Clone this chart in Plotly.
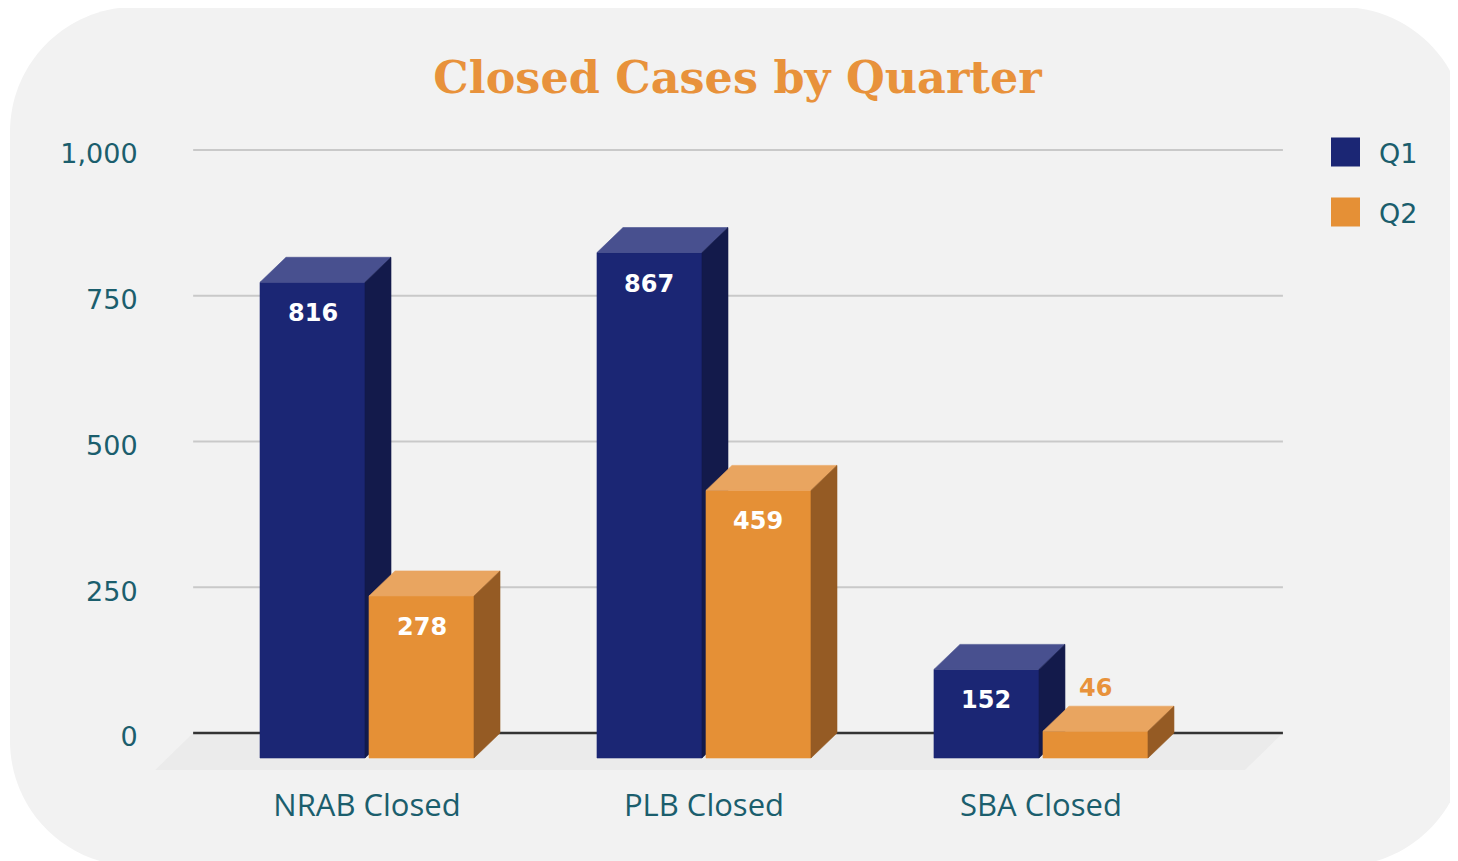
import plotly.graph_objects as go

# ---------------- data ----------------
CATEGORIES = ["NRAB Closed", "PLB Closed", "SBA Closed"]
SERIES = ["Q1", "Q2"]
Q1_VALUES = [816, 867, 152]
Q2_VALUES = [278, 459, 46]
Y_TICKS = [0, 250, 500, 750, 1000]
Y_TICK_LABELS = ["0", "250", "500", "750", "1,000"]
TITLE = "Closed Cases by Quarter"

# ---------------- style ----------------
FRONT = {"Q1": "#1b2674", "Q2": "#e59036"}
TOP = {"Q1": "#48508f", "Q2": "#e9a560"}
SIDE = {"Q1": "#131a4b", "Q2": "#955b24"}
TEAL = "#1b5e6d"
ORANGE = "#e8923b"
PANEL = "#f2f2f2"
FLOOR = "#ebebeb"

OFF = 8                      # page body margin of the html page
W, H = 1458 - OFF, 861 - OFF
L, R, T, B = 150 - OFF, 1290 - OFF, 120 - OFF, 773 - OFF   # plot area in px
ZERO_PX = 733 - OFF          # pixel row of value 0 on the back wall
PX_PER_UNIT_Y = 0.583
X_RANGE = [-0.644, 2.739]
Y_RANGE = [(ZERO_PX - B) / PX_PER_UNIT_Y, (ZERO_PX - T) / PX_PER_UNIT_Y]
PX_X = (R - L) / (X_RANGE[1] - X_RANGE[0])
PX_Y = (B - T) / (Y_RANGE[1] - Y_RANGE[0])

def dx(px):
    return px / PX_X

def dy(px):
    return px / PX_Y

DEPTH_X, DEPTH_Y = dx(26), dy(25)
BAR_W = dx(105)
BAR_SEP = dx(109)
WALL = [-0.516, 2.718]
FLOOR_DX, FLOOR_DY = dx(38), dy(37)

fig = go.Figure()

series_values = {"Q1": Q1_VALUES, "Q2": Q2_VALUES}
annotations = []
for si, s in enumerate(SERIES):
    fx, fy, tx, ty, sx, sy = [], [], [], [], [], []
    for ci, v in enumerate(series_values[s]):
        xc = ci + (si - 0.5) * BAR_SEP
        xl, xr = xc - BAR_W / 2, xc + BAR_W / 2
        yb, yt = -DEPTH_Y, v - DEPTH_Y
        fx += [xl, xr, xr, xl, xl, None]
        fy += [yb, yb, yt, yt, yb, None]
        tx += [xl, xr, xr + DEPTH_X, xl + DEPTH_X, xl, None]
        ty += [yt, yt, v, v, yt, None]
        sx += [xr, xr + DEPTH_X, xr + DEPTH_X, xr, xr, None]
        sy += [yb, 0, v, yt, yb, None]
        front_h_px = v * PX_Y
        if front_h_px > 60:
            annotations.append(dict(x=xc, y=yt, xref="x", yref="y", text=str(v),
                                    showarrow=False, yshift=-31, yanchor="middle",
                                    font=dict(family="DejaVu Sans", size=24, color="white", weight=700)))
        else:
            annotations.append(dict(x=xc, y=v, xref="x", yref="y", text=str(v),
                                    showarrow=False, yshift=18, yanchor="middle",
                                    font=dict(family="DejaVu Sans", size=24, color=ORANGE, weight=700)))
    for xs, ys, col in [(fx, fy, FRONT[s]), (tx, ty, TOP[s]), (sx, sy, SIDE[s])]:
        fig.add_trace(go.Scatter(x=xs, y=ys, mode="lines", fill="toself", fillcolor=col,
                                 line=dict(color=col, width=0.6), name=s, showlegend=False,
                                 hoverinfo="skip"))

# ---------------- background shapes ----------------
def pxx(px):
    return (px - OFF - L) / (R - L)

def pxy(py):
    return (B - (py - OFF)) / (B - T)

def rounded_rect(x0, y0, x1, y1, r):
    k = 0.5523 * r
    path = f"M {pxx(x0 + r)},{pxy(y0)} L {pxx(x1 - r)},{pxy(y0)} "
    path += f"C {pxx(x1 - r + k)},{pxy(y0)} {pxx(x1)},{pxy(y0 + r - k)} {pxx(x1)},{pxy(y0 + r)} "
    path += f"L {pxx(x1)},{pxy(y1 - r)} "
    path += f"C {pxx(x1)},{pxy(y1 - r + k)} {pxx(x1 - r + k)},{pxy(y1)} {pxx(x1 - r)},{pxy(y1)} "
    path += f"L {pxx(x0 + r)},{pxy(y1)} "
    path += f"C {pxx(x0 + r - k)},{pxy(y1)} {pxx(x0)},{pxy(y1 - r + k)} {pxx(x0)},{pxy(y1 - r)} "
    path += f"L {pxx(x0)},{pxy(y0 + r)} "
    path += f"C {pxx(x0)},{pxy(y0 + r - k)} {pxx(x0 + r - k)},{pxy(y0)} {pxx(x0 + r)},{pxy(y0)} Z"
    return path

shapes = [dict(type="path", xref="paper", yref="paper", path=rounded_rect(10, 7, 1466, 866, 125),
               fillcolor=PANEL, line=dict(width=0), layer="below")]

floor_path = (f"M {WALL[0]},0 L {WALL[1]},0 L {WALL[1] - FLOOR_DX},{-FLOOR_DY} "
              f"L {WALL[0] - FLOOR_DX},{-FLOOR_DY} Z")
shapes.append(dict(type="path", xref="x", yref="y", path=floor_path, fillcolor=FLOOR,
                   line=dict(width=0), layer="below"))
for t in Y_TICKS:
    shapes.append(dict(type="line", xref="x", yref="y", x0=WALL[0], x1=WALL[1], y0=t, y1=t,
                       line=dict(color="#333333" if t == 0 else "#c9c9c9", width=2.5 if t == 0 else 2),
                       layer="below"))

# ---------------- manual legend ----------------
for i, s in enumerate(SERIES):
    yc = 152 + 60 * i
    shapes.append(dict(type="rect", xref="paper", yref="paper",
                       x0=pxx(1331), x1=pxx(1360), y0=pxy(yc + 14.5), y1=pxy(yc - 14.5),
                       fillcolor=FRONT[s], line=dict(width=0), layer="above"))
    annotations.append(dict(x=pxx(1377), y=pxy(yc + 1), xref="paper", yref="paper", text=s,
                            showarrow=False, xanchor="left", yanchor="middle",
                            font=dict(family="DejaVu Sans", size=27, color=TEAL)))

fig.update_layout(
    width=W, height=H, autosize=False,
    margin=dict(l=L, r=W - R, t=T, b=H - B, pad=0),
    paper_bgcolor="white", plot_bgcolor="rgba(0,0,0,0)",
    showlegend=False,
    title=dict(text=TITLE, x=(737.5 - OFF) / W, y=1 - (77 - OFF) / H, xref="container", yref="container",
               xanchor="center", yanchor="middle",
               font=dict(family="DejaVu Serif", size=44.5, color=ORANGE, weight=700)),
    xaxis=dict(range=X_RANGE, tickvals=[0, 1, 2], ticktext=CATEGORIES, showgrid=False,
               zeroline=False, showline=False, ticks="outside", ticklen=5,
               tickcolor="rgba(0,0,0,0)", tickfont=dict(family="Open Sans", size=31, color=TEAL),
               fixedrange=True),
    yaxis=dict(range=Y_RANGE, tickvals=Y_TICKS, ticktext=Y_TICK_LABELS, showgrid=False,
               zeroline=False, showline=False, ticks="outside", ticklen=6,
               ticklabelshift=4,
               tickcolor="rgba(0,0,0,0)", tickfont=dict(family="DejaVu Sans", size=27, color=TEAL),
               fixedrange=True),
    shapes=shapes,
    annotations=annotations,
)

fig.write_html("out.html")
